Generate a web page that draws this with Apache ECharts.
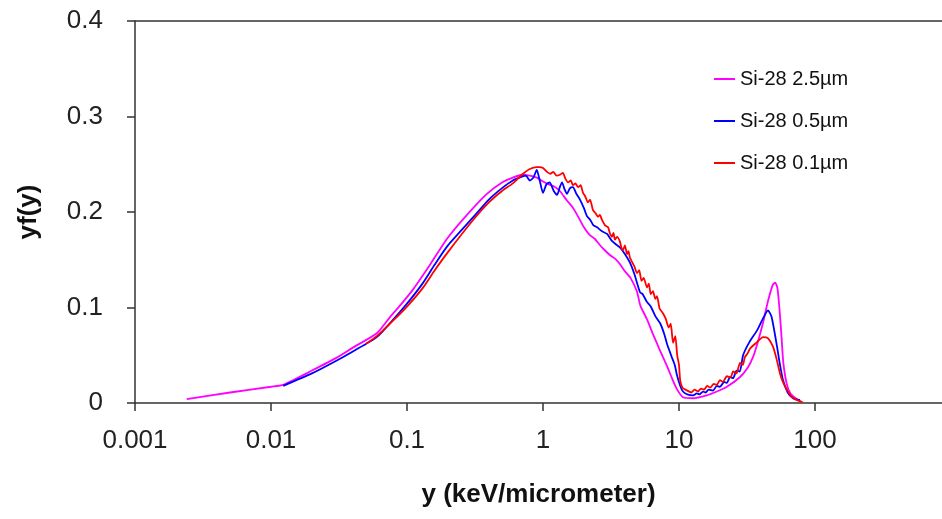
<!DOCTYPE html>
<html>
<head>
<meta charset="utf-8">
<style>
html,body{margin:0;padding:0;background:#fff;}
#chart{width:942px;height:519px;}
</style>
<script src="https://cdn.jsdelivr.net/npm/echarts@6/dist/echarts.min.js"></script>
</head>
<body>
<div id="chart"></div>
<script>
const seriesNames = ['Si-28 2.5µm', 'Si-28 0.5µm', 'Si-28 0.1µm'];
const seriesColors = ['#ff00ff', '#0000ff', '#ff0000'];

const xTickValues = [0.001, 0.01, 0.1, 1, 10, 100];
const xTickLabels = ['0.001', '0.01', '0.1', '1', '10', '100'];

const xMagenta = [0.0024, 0.005, 0.01, 0.0123, 0.02, 0.03, 0.04, 0.06, 0.075, 0.09, 0.111, 0.148, 0.197, 0.276, 0.387, 0.5, 0.6, 0.7, 0.8, 0.9, 1.0, 1.1, 1.2, 1.33, 1.5, 1.65, 1.8, 2.0, 2.2, 2.4, 2.6, 2.8, 3.1, 3.4, 3.7, 4.0, 4.4, 4.9, 5.2, 5.8, 6.4, 7.2, 8.2, 9.0, 9.7, 10.7, 12.7, 16, 19, 22.5, 28, 32, 35, 38, 41.5, 45, 49, 51, 53, 55, 57, 58.5, 62, 66, 72, 78];
const yMagenta = [0.004, 0.011, 0.017, 0.019, 0.034, 0.047, 0.058, 0.073, 0.090, 0.103, 0.119, 0.145, 0.172, 0.197, 0.219, 0.231, 0.236, 0.239, 0.238, 0.236, 0.232, 0.229, 0.227, 0.222, 0.212, 0.205, 0.196, 0.184, 0.176, 0.172, 0.166, 0.161, 0.155, 0.151, 0.145, 0.138, 0.131, 0.117, 0.102, 0.088, 0.073, 0.056, 0.038, 0.024, 0.014, 0.006, 0.005, 0.008, 0.012, 0.017, 0.027, 0.037, 0.048, 0.064, 0.084, 0.106, 0.124, 0.126, 0.120, 0.096, 0.065, 0.042, 0.020, 0.010, 0.005, 0.002];

const xBlue = [0.0123, 0.02, 0.03, 0.04, 0.06, 0.08, 0.1, 0.13, 0.16, 0.2, 0.3, 0.4, 0.5, 0.6, 0.7, 0.75, 0.8, 0.85, 0.9, 0.95, 1.0, 1.06, 1.12, 1.2, 1.27, 1.33, 1.38, 1.44, 1.5, 1.58, 1.66, 1.76, 1.87, 2.0, 2.1, 2.22, 2.35, 2.5, 2.7, 2.96, 3.2, 3.45, 3.68, 4.0, 4.36, 4.7, 5.17, 5.4, 5.8, 6.2, 6.7, 7.3, 7.8, 8.16, 8.8, 9.3, 9.67, 10.2, 10.7, 11.5, 12.7, 13.5, 14.2, 15, 15.7, 16.5, 17.8, 19, 20, 21.5, 22.5, 23.7, 25, 26.5, 28, 29.6, 33, 37.5, 41, 45.1, 48, 52.6, 55, 58.2, 63, 68.9, 77.6];
const yBlue = [0.018, 0.031, 0.044, 0.054, 0.069, 0.088, 0.104, 0.125, 0.145, 0.165, 0.193, 0.213, 0.225, 0.233, 0.237, 0.238, 0.233, 0.236, 0.244, 0.232, 0.220, 0.229, 0.231, 0.222, 0.218, 0.226, 0.231, 0.224, 0.219, 0.225, 0.226, 0.219, 0.213, 0.204, 0.196, 0.192, 0.186, 0.184, 0.180, 0.177, 0.170, 0.166, 0.163, 0.156, 0.147, 0.135, 0.116, 0.114, 0.106, 0.101, 0.091, 0.083, 0.072, 0.062, 0.049, 0.040, 0.029, 0.018, 0.012, 0.009, 0.008, 0.010, 0.009, 0.012, 0.011, 0.014, 0.013, 0.018, 0.017, 0.022, 0.021, 0.027, 0.026, 0.034, 0.033, 0.050, 0.064, 0.076, 0.087, 0.097, 0.090, 0.059, 0.042, 0.024, 0.011, 0.005, 0.003];

const xRed = [0.05, 0.06, 0.08, 0.1, 0.13, 0.16, 0.2, 0.3, 0.4, 0.5, 0.6, 0.7, 0.8, 0.9, 0.95, 1.0, 1.07, 1.13, 1.19, 1.26, 1.33, 1.40, 1.46, 1.53, 1.6, 1.66, 1.73, 1.81, 1.89, 1.97, 2.05, 2.14, 2.22, 2.33, 2.43, 2.54, 2.62, 2.71, 2.86, 3.01, 3.1, 3.21, 3.3, 3.38, 3.5, 3.68, 3.78, 3.87, 4.0, 4.15, 4.25, 4.36, 4.5, 4.7, 4.91, 5.1, 5.3, 5.5, 5.82, 6.0, 6.2, 6.44, 6.7, 6.89, 7.2, 7.62, 8.0, 8.4, 8.7, 9.04, 9.4, 9.7, 10.0, 10.2, 10.6, 11.5, 12.3, 13, 13.8, 14.5, 15.3, 16.1, 17, 18, 19, 20, 21, 22.5, 24, 25, 26.5, 28.1, 29.5, 30.5, 32, 33.3, 37, 41.5, 45, 49.1, 52, 55.3, 58.5, 62.2, 67, 73.8, 81];
const yRed = [0.062, 0.070, 0.087, 0.101, 0.120, 0.139, 0.158, 0.190, 0.210, 0.222, 0.230, 0.239, 0.245, 0.247, 0.247, 0.246, 0.242, 0.240, 0.242, 0.238, 0.239, 0.241, 0.235, 0.231, 0.233, 0.228, 0.230, 0.226, 0.228, 0.220, 0.216, 0.210, 0.213, 0.202, 0.199, 0.195, 0.197, 0.192, 0.186, 0.184, 0.178, 0.174, 0.178, 0.171, 0.174, 0.169, 0.162, 0.160, 0.165, 0.156, 0.159, 0.152, 0.148, 0.143, 0.136, 0.139, 0.128, 0.131, 0.121, 0.125, 0.114, 0.117, 0.109, 0.112, 0.099, 0.094, 0.088, 0.079, 0.083, 0.063, 0.070, 0.050, 0.040, 0.024, 0.016, 0.013, 0.011, 0.014, 0.012, 0.015, 0.014, 0.018, 0.016, 0.020, 0.019, 0.024, 0.022, 0.028, 0.027, 0.033, 0.031, 0.042, 0.040, 0.048, 0.052, 0.057, 0.063, 0.069, 0.068, 0.059, 0.047, 0.031, 0.021, 0.014, 0.007, 0.003, 0.001];

function zip(xs, ys) { return xs.map((x, i) => [x, ys[i]]); }

const FONT = 'Liberation Sans, Arial, sans-serif';
const AXIS_COLOR = '#333';
// visible end of the log axis (the chart is cropped just before 1000)
const X_MIN = 0.001;
const X_MAX = 859;

const chart = echarts.init(document.getElementById('chart'), null, { renderer: 'canvas' });

const axisLineStyle = { color: AXIS_COLOR, width: 1.5 };

chart.setOption({
  animation: false,
  backgroundColor: '#fff',
  grid: { left: 135, top: 21, right: 0, bottom: 116, show: false },
  legend: {
    orient: 'vertical',
    left: 714, top: 69,
    padding: 0,
    icon: 'rect',
    itemWidth: 21, itemHeight: 2, itemGap: 22,
    textStyle: { fontSize: 20, fontFamily: FONT, color: '#111', lineHeight: 20, height: 20 },
    data: seriesNames
  },
  xAxis: [{
    type: 'log', logBase: 10, min: X_MIN, max: X_MAX, position: 'bottom',
    axisLine: { show: true, onZero: false, lineStyle: axisLineStyle },
    axisTick: { show: true, length: 8, inside: false, lineStyle: axisLineStyle, customValues: xTickValues },
    minorTick: { show: false },
    splitLine: { show: false },
    axisLabel: {
      fontSize: 26, fontFamily: FONT, color: '#222', margin: 25,
      customValues: xTickValues,
      formatter: function (v) {
        const i = xTickValues.findIndex(t => Math.abs(Math.log10(t) - Math.log10(v)) < 1e-6);
        return i >= 0 ? xTickLabels[i] : '';
      }
    },
    name: 'y (keV/micrometer)', nameLocation: 'middle', nameGap: 79,
    nameTextStyle: { fontSize: 26, fontWeight: 'bold', fontFamily: FONT, color: '#111' }
  }, {
    type: 'log', logBase: 10, min: X_MIN, max: X_MAX, position: 'top',
    axisLine: { show: true, onZero: false, lineStyle: axisLineStyle },
    axisTick: { show: false }, axisLabel: { show: false }, splitLine: { show: false }, minorTick: { show: false }
  }],
  yAxis: {
    type: 'value', min: 0, max: 0.4, interval: 0.1,
    axisLine: { show: true, lineStyle: axisLineStyle },
    axisTick: { show: true, length: 8, lineStyle: axisLineStyle },
    splitLine: { show: false },
    axisLabel: { fontSize: 26, fontFamily: FONT, color: '#222', margin: 32 },
    name: 'yf(y)', nameLocation: 'middle', nameGap: 93, nameRotate: 90,
    nameTextStyle: { fontSize: 26, fontWeight: 'bold', fontFamily: FONT, color: '#111' }
  },
  series: [
    { name: seriesNames[0], type: 'line', data: zip(xMagenta, yMagenta), symbol: 'none', smooth: 0.2,
      color: seriesColors[0], lineStyle: { color: seriesColors[0], width: 1.8 } },
    { name: seriesNames[1], type: 'line', data: zip(xBlue, yBlue), symbol: 'none', smooth: 0.2,
      color: seriesColors[1], lineStyle: { color: seriesColors[1], width: 1.8 } },
    { name: seriesNames[2], type: 'line', data: zip(xRed, yRed), symbol: 'none', smooth: 0.2,
      color: seriesColors[2], lineStyle: { color: seriesColors[2], width: 1.8 } }
  ]
});
</script>
</body>
</html>
